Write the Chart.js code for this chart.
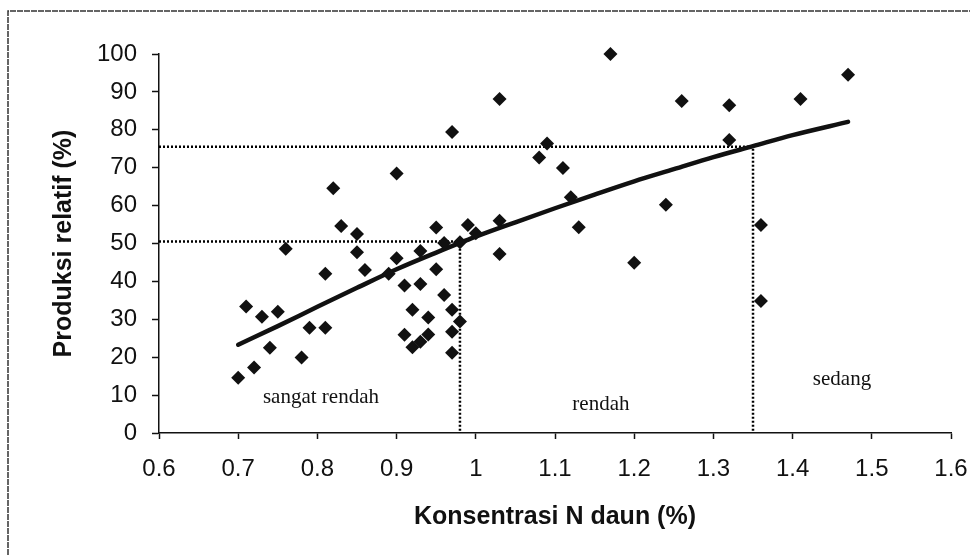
<!DOCTYPE html>
<html><head><meta charset="utf-8">
<script src="https://cdn.jsdelivr.net/npm/chart.js@4"></script>
<style>html,body{margin:0;padding:0;background:#fff;}#wrap{width:970px;height:555px;}</style>
</head><body><div id="wrap"><canvas id="c" width="970" height="555"></canvas></div>
<script>
// Data
const nConc = [0.70,0.72,0.71,0.73,0.74,0.75,0.76,0.78,0.79,0.81,0.81,0.83,0.82,0.85,0.85,0.86,0.89,0.90,0.90,0.91,0.93,0.93,0.92,0.91,0.92,0.93,0.94,0.94,0.95,0.95,0.96,0.96,0.97,0.97,0.97,0.98,0.98,0.97,0.99,1.00,1.03,1.03,1.03,1.08,1.09,1.11,1.12,1.13,1.17,1.20,1.24,1.26,1.32,1.32,1.36,1.36,1.41,1.47];
const relYield = [14.6,17.3,33.4,30.7,22.5,32.0,48.6,19.9,27.8,27.8,42.0,54.6,64.6,52.5,47.7,43.0,42.0,46.1,68.5,38.9,48.0,39.3,32.5,25.9,22.6,24.1,26.0,30.5,54.2,43.2,50.1,36.4,32.5,26.7,21.2,29.4,50.3,79.4,54.9,52.7,56.0,47.2,88.1,72.7,76.4,69.9,62.2,54.3,100.0,44.9,60.2,87.6,86.5,77.3,54.9,34.8,88.1,94.5];
const trendX = [0.70,0.75,0.80,0.85,0.90,0.95,1.00,1.05,1.10,1.15,1.20,1.25,1.30,1.35,1.40,1.47];
const trendY = [23.3,28.2,33.3,38.3,43.2,47.6,51.8,55.6,59.3,62.9,66.4,69.6,72.8,75.7,78.6,82.1];
const lowRefX = [0.6,0.98,0.98];
const lowRefY = [50.5,50.5,0];
const highRefX = [0.6,1.35,1.35];
const highRefY = [75.5,75.5,0];
const xTicks = [0.6,0.7,0.8,0.9,1.0,1.1,1.2,1.3,1.4,1.5,1.6];
const yTicks = [0,10,20,30,40,50,60,70,80,90,100];
const zoneLabels = ['sangat rendah','rendah','sedang'];
const zoneX = [0.8045,1.158,1.4624];
const zoneY = [7.9,6.1,12.7];

const pts = (xs, ys) => xs.map((x, i) => ({x, y: ys[i]}));
const INK = '#111';

const framePlugin = {
  id: 'frame',
  beforeDraw(chart) {
    const ctx = chart.ctx;
    ctx.save();
    ctx.strokeStyle = '#333';
    ctx.lineWidth = 1.5;
    ctx.setLineDash([6, 1]);
    ctx.beginPath();
    ctx.moveTo(8, 555);
    ctx.lineTo(8, 11);
    ctx.lineTo(970, 11);
    ctx.stroke();
    ctx.restore();
  },
  afterDatasetsDraw(chart) {
    const ctx = chart.ctx;
    const xs = chart.scales.x, ys = chart.scales.y;
    ctx.save();
    ctx.fillStyle = INK;
    ctx.font = '21px "Liberation Serif", "DejaVu Serif", serif';
    ctx.textAlign = 'center';
    ctx.textBaseline = 'alphabetic';
    zoneLabels.forEach((t, i) => {
      ctx.fillText(t, xs.getPixelForValue(zoneX[i]), ys.getPixelForValue(zoneY[i]));
    });
    ctx.restore();
  }
};

new Chart(document.getElementById('c'), {
  type: 'scatter',
  data: {
    datasets: [
      { label: 'Data', data: pts(nConc, relYield), pointStyle: 'rectRot', pointRadius: 7, pointHoverRadius: 7,
        backgroundColor: INK, borderColor: INK, borderWidth: 0, order: 0, clip: false },
      { label: 'Trend', data: pts(trendX, trendY), showLine: true, pointRadius: 0, borderColor: INK,
        borderWidth: 4.5, tension: 0.4, cubicInterpolationMode: 'monotone', borderCapStyle: 'round', fill: false, order: 1 },
      { label: 'Batas rendah', data: pts(lowRefX, lowRefY), showLine: true, pointRadius: 0, borderColor: '#000',
        borderWidth: 2.5, borderDash: [2, 2], tension: 0, fill: false, order: 2 },
      { label: 'Batas sedang', data: pts(highRefX, highRefY), showLine: true, pointRadius: 0, borderColor: '#000',
        borderWidth: 2.5, borderDash: [2, 2], tension: 0, fill: false, order: 2 }
    ]
  },
  options: {
    responsive: false,
    animation: false,
    devicePixelRatio: 1,
    layout: { padding: { left: 40, top: 54, right: 19, bottom: 10 } },
    plugins: { legend: { display: false }, tooltip: { enabled: false } },
    scales: {
      x: {
        type: 'linear', min: 0.6, max: 1.6,
        afterBuildTicks: s => { s.ticks = xTicks.map(v => ({ value: v })); },
        afterFit: s => { s.height = 555 - 10 - 433; s.paddingLeft = 0; s.paddingRight = 0; },
        grid: { drawOnChartArea: false, drawTicks: true, tickLength: 6, tickColor: INK, tickWidth: 1.5 },
        border: { display: true, color: INK, width: 1.5 },
        ticks: { color: INK, font: { family: '"Liberation Sans", Arial, sans-serif', size: 24 }, padding: 16,
          maxRotation: 0, autoSkip: false, callback: v => String(Math.round(v * 10) / 10) },
        title: { display: true, text: 'Konsentrasi N daun (%)', color: INK,
          font: { family: '"Liberation Sans", Arial, sans-serif', size: 25, weight: 'bold' }, padding: { top: 0, bottom: 13 } }
      },
      y: {
        type: 'linear', min: 0, max: 100,
        afterBuildTicks: s => { s.ticks = yTicks.map(v => ({ value: v })); },
        afterFit: s => { s.width = 159 - 40; s.paddingTop = 0; s.paddingBottom = 0; },
        grid: { drawOnChartArea: false, drawTicks: true, tickLength: 7, tickColor: INK, tickWidth: 1.5 },
        border: { display: true, color: INK, width: 1.5 },
        ticks: { color: INK, font: { family: '"Liberation Sans", Arial, sans-serif', size: 24 }, padding: 15 },
        title: { display: true, text: 'Produksi relatif (%)', color: INK,
          font: { family: '"Liberation Sans", Arial, sans-serif', size: 25, weight: 'bold' }, padding: { top: 9, bottom: 0 } }
      }
    }
  },
  plugins: [framePlugin]
});
</script>
</body></html>
